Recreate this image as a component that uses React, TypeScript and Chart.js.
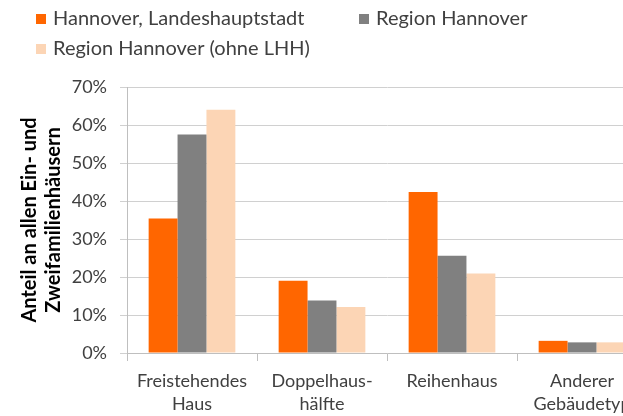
import React, { useEffect, useRef } from "react";
import { Chart, registerables } from "chart.js";

Chart.register(...registerables);

const categories: string[][] = [
  ["Freistehendes", "Haus"],
  ["Doppelhaus-", "hälfte"],
  ["Reihenhaus"],
  ["Anderer", "Gebäudetyp"],
];
const seriesNames = ["Hannover, Landeshauptstadt", "Region Hannover", "Region Hannover (ohne LHH)"];
const hannoverLHH = [35.4, 19.0, 42.4, 3.2];
const regionHannover = [57.5, 13.8, 25.6, 2.8];
const regionOhneLHH = [64.0, 12.1, 20.9, 2.8];
const seriesColors = ["#FF6600", "#808080", "#FCD5B5"];
const yTitle = ["Anteil an allen Ein- und", "Zweifamilienhäusern"];
const yMax = 70;
const yStep = 10;

const FONT = "Lato, 'Liberation Sans', sans-serif";
const TEXT = "#404040";

const legendPos = [
  [36, 14],
  [359, 14],
  [36, 44],
];

const legendPlugin = {
  id: "customLegend",
  afterDraw(chart: any) {
    const ctx = chart.ctx;
    ctx.save();
    chart.data.datasets.forEach((ds: any, i: number) => {
      const [x, y] = legendPos[i];
      ctx.fillStyle = ds.backgroundColor;
      ctx.fillRect(x, y, 10, 10);
      ctx.fillStyle = TEXT;
      ctx.font = `20px ${FONT}`;
      ctx.textBaseline = "middle";
      ctx.textAlign = "left";
      ctx.fillText(ds.label, x + 17, y + 5);
    });
    ctx.restore();
  },
};

export default function App() {
  const ref = useRef<HTMLCanvasElement>(null);
  useEffect(() => {
    if (!ref.current) return;
    const series = [hannoverLHH, regionHannover, regionOhneLHH];
    const chart = new Chart(ref.current, {
      type: "bar",
      data: {
        labels: categories as any,
        datasets: series.map((d, i) => ({
          label: seriesNames[i],
          data: d,
          backgroundColor: seriesColors[i],
          borderWidth: 0,
          categoryPercentage: 0.667,
          barPercentage: 1,
        })),
      },
      options: {
        responsive: false,
        animation: false,
        devicePixelRatio: 1,
        layout: { padding: { top: 87, right: 53, left: 0, bottom: 0 } },
        plugins: { legend: { display: false }, tooltip: { enabled: false } },
        scales: {
          x: {
            grid: {
              display: true,
              drawOnChartArea: false,
              drawTicks: true,
              tickLength: 8,
              color: "#BFBFBF",
              offset: true,
            },
            border: { display: true, color: "#BFBFBF" },
            ticks: {
              color: TEXT,
              font: { family: FONT, size: 18, lineHeight: 1.25 },
              padding: 9,
              maxRotation: 0,
              autoSkip: false,
            },
            afterFit: (s: any) => {
              s.height = 63;
            },
          },
          y: {
            min: 0,
            max: yMax,
            ticks: {
              stepSize: yStep,
              callback: (v: any) => v + "%",
              color: TEXT,
              font: { family: FONT, size: 18 },
              padding: 13,
            },
            grid: { color: "#D0D0D0", tickLength: 7, drawTicks: true },
            border: { display: true, color: "#BFBFBF" },
            title: {
              display: true,
              text: yTitle,
              color: "#000000",
              font: { family: FONT, size: 20, weight: "bold", lineHeight: 1.2 },
              padding: { top: 18, bottom: 0 },
            },
            afterFit: (s: any) => {
              s.width = 127;
            },
          },
        },
      },
      plugins: [legendPlugin],
    });
    return () => chart.destroy();
  }, []);

  return (
    <div
      style={{
        position: "fixed",
        left: 0,
        top: 0,
        width: 623,
        height: 416,
        overflow: "hidden",
        background: "#fff",
      }}
    >
      <canvas ref={ref} width={700} height={416} style={{ display: "block" }} />
    </div>
  );
}
